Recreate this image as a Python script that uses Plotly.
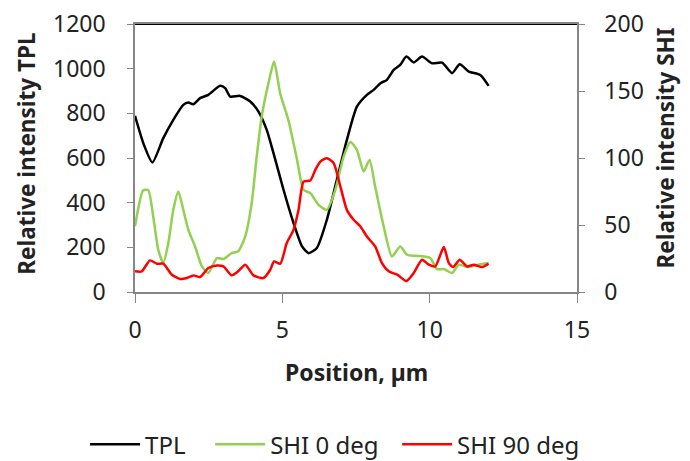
import plotly.graph_objects as go

# TPL (left axis)
tpl_x = [0, 0.3, 0.59, 0.96, 1.3, 1.64, 1.81, 1.98, 2.21, 2.49, 2.89, 3.06, 3.23, 3.57, 3.91, 4.19,
         4.47, 4.7, 5.04, 5.38, 5.67, 5.89, 6.17, 6.51, 6.85, 7.19, 7.53, 7.87, 8.1, 8.33, 8.55,
         8.78, 9.0, 9.21, 9.46, 9.74, 10.08, 10.42, 10.76, 11.02, 11.33, 11.72, 12.0]
tpl_y = [789, 660, 580, 689, 771, 838, 848, 841, 868, 883, 923, 913, 875, 878, 853, 808,
         726, 622, 458, 309, 204, 174, 197, 323, 502, 681, 830, 883, 905, 935, 950,
         995, 1017, 1054, 1028, 1054, 1024, 1027, 980, 1020, 987, 972, 923]

# SHI 0 deg (right axis)
shi0_x = [0, 0.28, 0.45, 0.62, 0.79, 0.96, 1.13, 1.3, 1.47, 1.64, 1.81, 2.04, 2.27, 2.49, 2.78,
          3.0, 3.28, 3.5, 3.74, 3.96, 4.13, 4.3, 4.53, 4.72, 4.93, 5.21, 5.5, 5.72, 5.95, 6.23,
          6.51, 6.8, 7.08, 7.31, 7.53, 7.76, 7.96, 8.15, 8.44, 8.72, 9.0, 9.23, 9.5, 9.8, 10.02,
          10.25, 10.48, 10.76, 10.99, 11.27, 11.67, 12.0]
shi0_y = [49, 76, 76, 56, 31.5, 21.6, 36.5, 61.3, 75, 61.3, 46.4, 34, 19.1, 14.2, 25.3,
          24.6, 29.1, 30.3, 41.4, 66.3, 101, 131, 156, 172, 148, 128, 98.6, 76.3, 73.8, 65,
          61.3, 76.3, 101, 112, 106, 90, 98.6, 78.7, 48.9, 26.5, 34, 27.8, 27, 26.5, 25.3,
          17.1, 17.1, 14.2, 20.4, 18.6, 20.4, 21.6]

# SHI 90 deg (right axis)
shi90_x = [0, 0.23, 0.51, 0.74, 0.96, 1.25, 1.53, 1.76, 1.98, 2.21, 2.49, 2.78, 3.0, 3.28, 3.5,
           3.74, 4.02, 4.36, 4.59, 4.72, 4.93, 5.15, 5.38, 5.55, 5.72, 5.95, 6.12, 6.29, 6.51,
           6.74, 6.97, 7.19, 7.42, 7.65, 7.87, 8.15, 8.38, 8.61, 8.9, 9.21, 9.46, 9.74, 9.97,
           10.19, 10.48, 10.65, 10.8, 11.02, 11.27, 11.5, 11.78, 12.0]
shi90_y = [15.4, 15.4, 23.6, 21.1, 21.1, 12.9, 9.7, 10.4, 12.4, 11.2, 17.9, 19.8, 19.1, 12.4, 15.4,
           20.4, 12.4, 10.4, 16.6, 22.8, 21.1, 36.5, 46.4, 61.3, 82.4, 83.2, 91.2, 97.3, 99.9,
           96.2, 78.7, 61.3, 53.9, 48.9, 41.4, 34, 21.6, 15.4, 12.9, 8.2, 14.2, 24.1, 20.4,
           19.1, 33.5, 21.6, 18.6, 24.1, 19.1, 20.4, 18.6, 21.1]

x_ticks = [0, 5, 10, 15]
left_ticks = [0, 200, 400, 600, 800, 1000, 1200]
right_ticks = [0, 50, 100, 150, 200]

FONT = "Noto Sans"
fig = go.Figure()
fig.add_trace(go.Scatter(x=tpl_x, y=tpl_y, name="TPL", mode="lines", legend="legend",
                         line=dict(color="#000000", width=2.5, shape="spline", smoothing=0.6)))
fig.add_trace(go.Scatter(x=shi0_x, y=shi0_y, name="SHI 0 deg", mode="lines", yaxis="y2",
                         legend="legend2",
                         line=dict(color="#92D050", width=2.5, shape="spline", smoothing=0.6)))
fig.add_trace(go.Scatter(x=shi90_x, y=shi90_y, name="SHI 90 deg", mode="lines", yaxis="y2",
                         legend="legend3",
                         line=dict(color="#FF0000", width=2.5, shape="spline", smoothing=0.6)))

axcol = "#868686"
leg_common = dict(orientation="h", y=-0.57, yanchor="middle", xanchor="left",
                  font=dict(size=24), itemwidth=50, bgcolor="rgba(0,0,0,0)")
fig.update_layout(
    width=682, height=453,
    margin=dict(l=127, r=113, t=16, b=169, autoexpand=False),
    paper_bgcolor="white", plot_bgcolor="white",
    font=dict(family=FONT, size=23, color="#222222"),
    showlegend=True,
    legend=dict(x=-0.113, **leg_common),
    legend2=dict(x=0.170, **leg_common),
    legend3=dict(x=0.593, **leg_common),
    xaxis=dict(range=[0, 15], tickvals=x_ticks, showgrid=False, zeroline=False, automargin=False,
               showline=True, linecolor=axcol, linewidth=1.5, ticks="outside", mirror=True,
               ticklen=9, tickcolor=axcol, ticklabelstandoff=8, ticklabeloverflow="allow"),
    yaxis=dict(range=[0, 1200], tickvals=left_ticks, showgrid=False, zeroline=False, automargin=False,
               showline=True, linecolor=axcol, linewidth=1.5, ticks="outside",
               ticklen=6, tickcolor=axcol, ticklabelstandoff=17, ticklabeloverflow="allow"),
    yaxis2=dict(range=[0, 200], tickvals=right_ticks, overlaying="y", side="right", automargin=False,
                showgrid=False, zeroline=False, showline=True, linecolor=axcol, linewidth=1.5,
                ticks="outside", ticklen=6, tickcolor=axcol, ticklabelstandoff=15,
                ticklabeloverflow="allow"),
    shapes=[dict(type="line", xref="x", yref="y", x0=0, x1=15, y0=1200, y1=1200, layer="above",
                 line=dict(color="#000000", width=2))],
    annotations=[
        dict(text="<b>Relative intensity TPL</b>", xref="paper", yref="paper",
             x=-0.245, y=0.515, textangle=-90, showarrow=False, xanchor="center", yanchor="middle",
             font=dict(size=22.5)),
        dict(text="<b>Relative intensity SHI</b>", xref="paper", yref="paper",
             x=1.2, y=0.537, textangle=-90, showarrow=False, xanchor="center", yanchor="middle",
             font=dict(size=22.5)),
        dict(text="<b>Position, µm</b>", xref="paper", yref="paper",
             x=0.5, y=-0.30, showarrow=False, xanchor="center", yanchor="middle",
             font=dict(size=23)),
    ],
)
fig.write_html("out.html")
